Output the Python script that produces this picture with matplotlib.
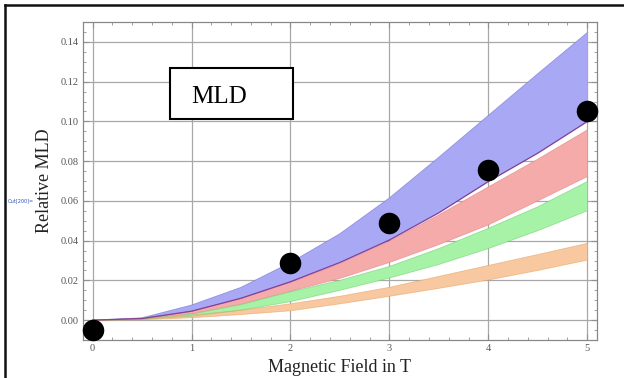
import matplotlib
matplotlib.use("Agg")
import matplotlib.pyplot as plt
from matplotlib.ticker import MultipleLocator
from matplotlib.patches import Rectangle
from matplotlib.lines import Line2D

# ---- data ----
field = [0, 0.5, 1, 1.5, 2, 2.5, 3, 3.5, 4, 4.5, 5]
blue_hi = [0, 0.0012, 0.0076, 0.0165, 0.029, 0.0435, 0.0615, 0.082, 0.103, 0.124, 0.1447]
blue_lo = [0, 0.0008, 0.0045, 0.011, 0.0193, 0.029, 0.0403, 0.054, 0.0697, 0.084, 0.0999]
red_hi = [0, 0.0008, 0.0044, 0.0108, 0.019, 0.0285, 0.0398, 0.053, 0.067, 0.081, 0.0957]
red_lo = [0, 0.0006, 0.0032, 0.008, 0.0145, 0.021, 0.029, 0.038, 0.0479, 0.06, 0.0722]
green_hi = [0, 0.0006, 0.003, 0.0078, 0.0143, 0.020, 0.027, 0.036, 0.0462, 0.057, 0.0697]
green_lo = [0, 0.0004, 0.002, 0.005, 0.0093, 0.015, 0.0212, 0.028, 0.036, 0.045, 0.055]
orange_hi = [0, 0.0005, 0.0025, 0.005, 0.0082, 0.012, 0.0165, 0.022, 0.0275, 0.033, 0.0386]
orange_lo = [0, 0.0002, 0.0012, 0.0028, 0.0047, 0.0082, 0.012, 0.016, 0.0202, 0.025, 0.0302]

meas_field = [0, 2, 3, 4, 5]
meas_mld = [-0.005, 0.0286, 0.049, 0.0756, 0.1053]

x_ticks = [0, 1, 2, 3, 4, 5]
y_ticks = [0.00, 0.02, 0.04, 0.06, 0.08, 0.10, 0.12, 0.14]

serif = ["Liberation Serif", "DejaVu Serif"]

fig = plt.figure(figsize=(6.24, 3.78), dpi=100)
ax = fig.add_axes([0.1325, 0.1005, 0.8245, 0.8413])

bands = [
    (blue_hi, blue_lo, "#a8a8f4", "#7070d0"),
    (red_hi, red_lo, "#f6abab", "#e08080"),
    (green_hi, green_lo, "#a6f2a6", "#70d070"),
    (orange_hi, orange_lo, "#f8c9a0", "#e8a060"),
]
for hi, lo, fc, ec in bands:
    ax.fill_between(field, lo, hi, facecolor=fc, edgecolor="none", zorder=2)
    ax.plot(field, hi, color=ec, lw=0.6, alpha=0.6, zorder=3)
    ax.plot(field, lo, color=ec, lw=0.6, alpha=0.6, zorder=3)
ax.plot(field, blue_lo, color="#7a2a8a", lw=0.9, alpha=0.8, zorder=3)

ax.plot(meas_field, meas_mld, "o", color="black", markersize=14.5, zorder=5, clip_on=False)

ax.set_xlim(-0.1, 5.1)
ax.set_ylim(-0.01, 0.15)
ax.set_xticks(x_ticks)
ax.set_yticks(y_ticks)
ax.set_xticklabels([str(t) for t in x_ticks])
ax.set_yticklabels([f"{t:.2f}" for t in y_ticks])
ax.xaxis.set_minor_locator(MultipleLocator(0.2))
ax.yaxis.set_minor_locator(MultipleLocator(0.005))
ax.grid(True, which="major", color="#a8a8a8", lw=0.9, zorder=1)
ax.set_axisbelow(True)
for s in ax.spines.values():
    s.set_color("#888888")
    s.set_linewidth(0.9)
ax.tick_params(which="both", direction="in", top=True, right=True, color="#909090")
ax.tick_params(which="major", length=4, width=0.8, labelsize=7.5, labelcolor="#555555", pad=3)
ax.tick_params(which="minor", length=2, width=0.6)
for lab in ax.get_xticklabels() + ax.get_yticklabels():
    lab.set_family(serif)

ax.set_xlabel("Magnetic Field in T", fontsize=13, family=serif, color="#222222", labelpad=4)
ax.set_ylabel("Relative MLD", fontsize=13, family=serif, color="#222222")
ax.yaxis.set_label_coords(-0.058, 0.5)

# MLD label box
fig.patches.append(Rectangle((170 / 624, 1 - 119 / 378), 123 / 624, 51 / 378,
                             transform=fig.transFigure, facecolor="white",
                             edgecolor="black", lw=1.5, zorder=10))
fig.text(191 / 624, 1 - 97 / 378, "MLD", fontsize=18, family=serif, ha="left",
         va="center", zorder=11)

# outer frame lines
fig.add_artist(Line2D([5 / 624, 1], [1 - 5 / 378, 1 - 5 / 378], transform=fig.transFigure,
                      color="#111111", lw=1.8))
fig.add_artist(Line2D([5 / 624, 5 / 624], [0, 1 - 5 / 378], transform=fig.transFigure,
                      color="#111111", lw=1.8))

fig.text(8 / 624, 1 - 201 / 378, "Out[200]=", fontsize=3.5, color="#3050c0", va="center")

fig.savefig("out.png", dpi=100)
